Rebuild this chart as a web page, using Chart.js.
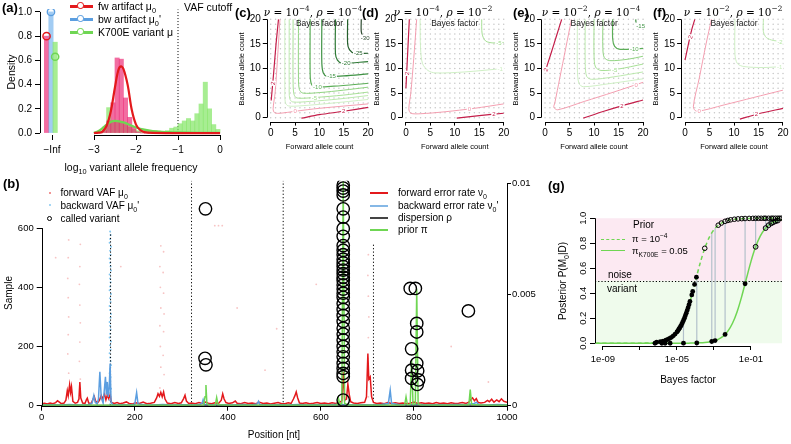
<!DOCTYPE html>
<html><head><meta charset="utf-8">
<script src="https://cdn.jsdelivr.net/npm/chart.js@4.4.1/dist/chart.umd.min.js"></script>
<style>
body{margin:0;background:#fff}
#fig{position:relative;width:791px;height:444px;overflow:hidden;font-family:"Liberation Sans",Arial,sans-serif;color:#000}
#fig canvas{position:absolute}
.t{position:absolute;white-space:nowrap;line-height:1}
.t sub,.t sup{font-size:70%;line-height:0}
.m{font-family:"DejaVu Serif",serif;font-size:10.5px}
.m i{font-style:italic}
.L{font-weight:bold;font-size:13px}
</style></head><body><div id="fig"></div>
<script>
// ---------- (a) VAF histograms ----------
const binMid = [-2.95,-2.85,-2.75,-2.65,-2.55,-2.45,-2.35,-2.25,-2.15,-2.05,-1.95,-1.85,-1.75,-1.65,-1.55,-1.45,-1.35,-1.25,-1.15,-1.05,-0.95,-0.85,-0.75,-0.65,-0.55,-0.45,-0.35,-0.25,-0.15,-0.05];
const fwHist  = [0,0,0.02,0.10,0.25,0.62,0.61,0.29,0.13,0.05,0.01,0,0,0,0,0,0,0,0,0,0,0,0,0,0,0,0,0,0,0];
const varHist = [0.01,0.02,0.05,0.21,0.10,0.10,0.09,0.07,0.05,0.03,0.02,0.02,0.025,0.02,0.02,0.015,0.015,0.02,0.04,0.05,0.077,0.10,0.12,0.10,0.16,0.24,0.42,0.20,0.07,0.03];
const infHist  = [0.80, 1.00, 0.75];   // fw, bw, variant at -Inf
const infModel = [0.80, 1.00, 0.63];
const fwCurve  = [[-3,0],[-2.9,0.003],[-2.8,0.012],[-2.7,0.06],[-2.6,0.18],[-2.5,0.38],[-2.42,0.52],[-2.36,0.55],[-2.3,0.53],[-2.2,0.40],[-2.1,0.19],[-2.0,0.07],[-1.9,0.025],[-1.8,0.008],[-1.6,0.001],[-1.0,0],[0,0]];
const varCurve = [[-3,0],[-2.9,0.015],[-2.8,0.04],[-2.7,0.07],[-2.6,0.092],[-2.5,0.10],[-2.4,0.097],[-2.3,0.088],[-2.2,0.075],[-2.1,0.06],[-2.0,0.046],[-1.8,0.028],[-1.6,0.017],[-1.4,0.011],[-1.2,0.007],[-1.0,0.005],[-0.5,0.002],[0,0.001]];
const vafCutoff = -1;
const aXTicks = [-4,-3,-2,-1,0];
const aXLabels = ['\u2212Inf','\u22123','\u22122','\u22121','0'];
const aYTicks = [0,0.2,0.4,0.6,0.8,1];
const aYLabels = ['0.0','0.2','0.4','0.6','0.8','1.0'];

// ---------- (c)-(f) Bayes factor contours ----------
const gridCounts = [0,1,2,3,4,5,6,7,8,9,10,11,12,13,14,15,16,17,18,19,20];
const countTicks = [0,5,10,15,20];
const countLabels = ['0','5','10','15','20'];
const contC = [
  [2,[[0.1,3.5],[0.6,9],[1.1,15],[1.6,20]]],
  [2,[[6.3,-0.1],[10,0.6],[15,1.3],[20,2.1]]],
  [0,[[1.9,20],[1.4,12],[0.9,5],[0.5,1.8],[0.8,1.0],[2,0.9],[5,1.3],[10,1.9],[20,2.8]]],
  [-1,[[2.9,20],[2.9,6],[3.0,3.1],[3.6,2.4],[6,2.4],[12,2.9],[20,3.7]]],
  [-2,[[3.8,20],[3.8,6.5],[3.9,3.9],[4.5,3.2],[8,3.3],[14,3.8],[20,4.5]]],
  [-5,[[4.6,20],[4.6,7],[4.8,4.7],[5.4,4.0],[9,4.1],[15,4.6],[20,5.2]]],
  [-8,[[5.7,20],[5.7,8],[5.9,5.7],[6.6,5.0],[10,5.1],[15,5.6],[20,6.2]]],
  [-10,[[8.1,20],[8.1,9],[8.3,7.0],[9.0,6.3],[13,6.4],[20,7.0]]],
  [-15,[[10.5,20],[10.5,11],[10.8,9.1],[11.6,8.4],[15,8.5],[20,8.9]]],
  [-20,[[13.3,20],[13.3,13],[13.7,11.7],[14.6,11.1],[20,11.4]]],
  [-25,[[15.8,20],[15.8,15],[16.2,13.8],[17.2,13.1],[20,13.1]]],
  [-30,[[18.6,20],[18.6,17.5],[19.0,16.5],[20,16.1]]]
];
const labC = [['2',0.42,7,2,-82],['0',5,1.3,0],['2',15,1.3,2],['-5',9,4.1,-5],['-10',9.6,6.3,-10],['-15',12.5,8.45,-15],['-20',15.5,11.15,-20],['-25',18,13.1,-25],['-30',19.4,16.3,-30]];
const contD = [
  [2,[[0,6],[0.3,12],[0.7,20]]],
  [2,[[10.4,-0.1],[15,0.4],[20,0.9]]],
  [0,[[2.2,20],[1.6,12],[1.0,5],[0.6,1.8],[1.0,0.9],[3,0.8],[8,1.2],[14,1.9],[20,2.8]]],
  [-1,[[2.9,20],[3.0,14],[3.4,11],[4.5,9.6],[6,9.1],[12,9.3],[20,10.0]]],
  [-5,[[15.5,20],[15.6,17],[16.3,15.6],[17.8,15.2],[20,15.3]]]
];
const labD = [['2',0.2,9,2,-86],['0',13,1.8,0],['2',18,0.7,2],['-1',19.3,9.95,-1],['-5',19,15.25,-5]];
const contE = [
  [2,[[0,9.3],[1.2,13],[2.3,16.5],[3.4,20]]],
  [2,[[7.8,-0.1],[12,1.3],[16,2.5],[20,3.6]]],
  [0,[[5.4,20],[4.2,14],[3.0,8],[2.0,3],[1.8,2.1],[2.6,1.6],[8,3.3],[14,5.2],[20,7.2]]],
  [-1,[[6.6,20],[6.6,10],[6.9,7.0],[7.8,6.3],[13,6.9],[20,7.9]]],
  [-2,[[8.2,20],[8.2,11],[8.5,8.4],[9.5,7.8],[14,8.3],[20,9.3]]],
  [-5,[[10,20],[10,12.5],[10.3,10.3],[11.4,9.6],[15,9.9],[20,10.9]]],
  [-8,[[11.8,20],[11.8,14],[12.1,12.2],[13.2,11.6],[17,11.9],[20,12.5]]],
  [-10,[[13.8,20],[13.8,16],[14.2,14.5],[15.3,13.9],[20,14.1]]],
  [-15,[[18.5,20],[18.6,19.3],[19.2,18.8],[20,18.7]]]
];
const labE = [['2',0.15,9.8,2,-65],['0',18.6,6.7,0],['2',15.7,2.4,2],['-5',14.2,9.8,-5],['-10',18.2,14.05,-10],['-15',19.5,18.75,-15]];
const contF = [
  [2,[[0,11.7],[0.7,15],[1.4,18],[2.0,20]]],
  [2,[[11.2,-0.3],[15,0.8],[20,1.9]]],
  [0,[[5.4,20],[4.3,15],[2.9,8],[1.7,2.2],[2.4,1.3],[8,2.6],[14,4.1],[20,5.6]]],
  [-1,[[10.2,20],[10.2,12.8],[10.7,11.0],[12,10.4],[16,10.2],[20,10.4]]],
  [-2,[[16,20],[16,17.5],[16.6,16.3],[18,15.7],[20,15.5]]]
];
const labF = [['2',1.1,16.4,2,-70],['0',2.9,1.4,0],['2',14.6,0.75,2],['-1',19.3,10.4,-1],['-2',19.4,15.5,-2]];

// ---------- (b) positions along the amplicon ----------
// error rates / prior as [position, value in units of 1e-4]
const fwErr = [[0,0.9],[6,1.1],[12,0.8],[18,1.2],[24,0.9],[30,1.4],[34,2.2],[38,1.6],[42,0.9],[48,1.2],[52,2.5],[55,6.8],[57,4.5],[60,9.4],[62,6.0],[64,8.6],[67,2.0],[72,1.1],[77,1.5],[80,3.0],[82,10.6],[84,3.5],[88,1.2],[93,1.0],[96,2.6],[98,3.4],[101,1.2],[106,0.9],[110,2.8],[113,4.1],[116,2.0],[120,1.3],[124,2.4],[128,4.6],[131,3.1],[135,5.2],[138,2.6],[141,4.8],[144,3.2],[147,5.0],[150,1.5],[156,1.0],[162,1.4],[168,0.9],[175,1.2],[182,1.7],[188,1.0],[195,0.8],[202,1.3],[210,1.0],[218,1.6],[226,0.9],[234,1.1],[242,1.5],[247,3.5],[250,5.4],[253,4.2],[256,6.0],[259,4.0],[262,6.2],[265,3.0],[270,1.2],[278,0.9],[286,1.4],[294,1.0],[300,1.3],[305,3.2],[308,4.7],[311,2.1],[316,1.0],[322,1.2],[330,0.9],[338,1.4],[345,1.0],[352,1.6],[358,1.1],[365,0.9],[372,1.3],[380,1.0],[386,2.5],[389,5.3],[392,3.0],[396,1.4],[402,1.0],[410,1.3],[416,2.1],[420,1.1],[428,0.9],[436,1.4],[444,1.0],[452,1.2],[460,0.9],[468,1.5],[476,1.0],[484,1.2],[492,0.8],[500,1.1],[508,1.4],[516,0.9],[524,1.0],[530,1.3],[536,1.0],[541,3.0],[544,4.4],[547,6.2],[550,3.6],[554,1.2],[560,1.0],[568,1.3],[576,0.9],[584,1.1],[592,1.4],[600,1.0],[608,1.2],[616,0.9],[624,1.3],[632,1.0],[640,1.5],[645,2.2],[648,15.0],[651,2.5],[655,3.0],[658,9.8],[661,5.0],[664,1.8],[670,1.2],[678,1.0],[686,1.3],[694,1.5],[698,4.0],[701,23.5],[703,12.0],[706,13.0],[709,4.0],[713,1.5],[720,1.0],[728,1.2],[736,0.9],[744,1.4],[752,1.0],[760,1.3],[768,1.0],[776,1.2],[784,0.9],[792,1.1],[800,1.6],[808,1.0],[816,1.3],[824,1.0],[832,1.2],[840,0.9],[848,1.4],[856,1.0],[864,1.2],[872,0.9],[880,1.3],[888,1.0],[896,1.1],[904,1.4],[912,1.0],[918,1.6],[922,2.8],[926,3.5],[930,2.2],[934,3.2],[938,1.4],[944,1.2],[952,1.5],[958,2.4],[962,1.8],[967,2.9],[972,1.6],[978,2.6],[983,1.8],[988,3.1],[993,2.0],[1000,1.5]];
const bwErr = [[0,0.3],[20,0.4],[40,0.3],[60,0.5],[80,0.3],[100,0.4],[108,1.0],[112,4.6],[115,1.5],[119,0.8],[122,3.0],[125,15.3],[128,3.5],[132,1.2],[135,8.0],[137,13.0],[139,5.0],[141,10.7],[143,4.0],[145,7.5],[147,19.0],[149,2.0],[152,0.5],[170,0.4],[190,0.3],[200,0.6],[204,5.9],[207,0.8],[220,0.4],[240,0.3],[260,0.5],[280,0.3],[300,0.4],[320,0.3],[340,0.5],[345,1.2],[347,2.7],[350,0.6],[370,0.3],[390,0.4],[410,0.3],[430,0.5],[450,0.3],[463,0.8],[466,2.0],[469,0.5],[490,0.3],[510,0.4],[530,0.3],[550,0.5],[570,0.3],[590,0.4],[610,0.3],[630,0.5],[650,0.4],[670,0.3],[690,0.4],[710,0.3],[730,0.5],[745,1.0],[749,7.0],[752,1.0],[770,0.4],[790,0.3],[810,0.5],[830,0.3],[850,0.4],[870,0.3],[890,0.5],[910,0.4],[930,1.0],[934,1.6],[940,0.4],[960,0.3],[980,0.5],[1000,0.3]];
const dispersion = [[0,0.1],[100,0.12],[200,0.15],[300,0.1],[400,0.12],[500,0.1],[600,0.15],[700,0.1],[800,0.12],[900,0.1],[1000,0.1]];
const priorPi = [[0,0.2],[50,0.2],[100,0.25],[150,0.2],[200,0.2],[250,0.25],[300,0.2],[348,0.3],[351,4.0],[353,9.3],[355,1.0],[360,0.2],[373,0.3],[376,3.7],[379,0.4],[400,0.2],[450,0.2],[500,0.2],[550,0.2],[600,0.25],[635,0.3],[638,3.2],[641,0.5],[645,1.0],[648,101],[651,1.0],[660,0.2],[700,0.2],[750,0.2],[780,0.3],[783,4.0],[786,0.4],[792,0.5],[795,21.0],[798,0.6],[803,0.8],[806,52.6],[809,0.8],[815,0.3],[850,0.2],[900,0.2],[918,0.4],[921,7.3],[924,0.5],[950,0.2],[1000,0.2]];
// per-sample VAF dots [position, sample]
const fwVafDots = [[57,40],[58,110],[56,175],[57,240],[58,300],[57,365],[56,430],[57,500],[58,560],[82,25],[83,90],[81,150],[82,215],[83,280],[82,340],[81,410],[82,470],[83,545],[254,60],[256,130],[255,200],[254,270],[256,330],[255,400],[254,470],[256,540],[262,35],[263,105],[261,170],[262,250],[263,310],[262,380],[261,450],[262,520],[702,30],[703,95],[701,160],[702,230],[703,300],[702,370],[701,440],[702,510],[480,120],[505,260],[590,410],[170,470],[420,330],[880,200],[960,80],[30,500],[372,608],[380,608],[388,608]];
const bwVafDots = [[147,5],[146,18],[148,31],[147,44],[149,57],[146,70],[147,84],[148,97],[146,110],[147,124],[149,137],[148,150],[147,163],[146,177],[148,190],[147,204],[149,217],[146,230],[147,243],[148,257],[147,270],[146,283],[148,297],[149,310],[147,323],[146,337],[148,350],[147,363],[149,377],[146,390],[147,403],[148,417],[147,430],[146,443],[149,457],[148,470],[147,483],[146,497],[148,510],[147,523],[149,537],[146,550],[147,563],[148,577],[147,588]];
const calledVar = [[648,745],[648,735],[648,725],[648,712],[648,665],[648,637],[648,598],[648,572],[648,541],[648,525],[648,510],[648,495],[648,482],[648,470],[648,458],[648,446],[648,434],[648,423],[648,408],[648,394],[648,380],[648,366],[648,345],[648,325],[648,305],[648,285],[648,262],[648,242],[648,222],[648,200],[648,182],[648,165],[648,143],[648,126],[648,109],[648,98],[648,19],[352,665],[351,160],[353,138],[792,396],[803,396],[806,278],[806,249],[795,192],[806,143],[795,120],[808,118],[795,92],[810,87],[807,72],[917,320]];
const exonEdges = [[148,586],[322,760],[519,760],[713,548]];   // [position, top sample]
const bXTicks = [0,200,400,600,800,1000];
const bYTicks = [0,200,400,600];
const bY2Ticks = [0,0.005,0.01];
const bY2Labels = ['0','0.005','0.01'];

// ---------- (g) posterior vs Bayes factor ----------
const curveLog10BF = [-9.4,-8,-7,-6.5,-6,-5.5,-5,-4.75,-4.5,-4.25,-4,-3.75,-3.5,-3.25,-3,-2.75,-2.5,-2.25,-2,-1.75,-1.5,-1.25,-1,-0.75,-0.5,-0.25,0,0.25,0.5,0.7];
const postPrior4 = [0,0.0001,0.001,0.0032,0.0099,0.0307,0.0909,0.151,0.2403,0.3599,0.5,0.6401,0.7597,0.849,0.9091,0.9468,0.9693,0.9826,0.9901,0.9944,0.9968,0.9982,0.999,0.9994,0.9997,0.9998,0.9999,0.9999,1,1];
const postK700E = [0,0,0,0,0,0.0001,0.0002,0.0003,0.0006,0.0011,0.0019,0.0034,0.006,0.0106,0.0187,0.0327,0.0566,0.0966,0.1597,0.2525,0.3753,0.5166,0.6552,0.7716,0.8573,0.9143,0.95,0.9713,0.9836,0.9897];
const calledLog10BF = [-6.1,-5.9,-5.75,-5.6,-5.5,-5.4,-5.3,-5.2,-5.1,-5.0,-4.95,-4.9,-4.85,-4.8,-4.75,-4.7,-4.65,-4.6,-4.55,-4.5,-4.45,-4.4,-4.35,-4.3,-4.2,-4.15,-4.05,-3.95];
const calledPost = [0.0079,0.0124,0.0175,0.0245,0.0307,0.0383,0.0477,0.0594,0.0735,0.0909,0.1009,0.112,0.124,0.137,0.151,0.166,0.183,0.201,0.22,0.24,0.262,0.285,0.309,0.334,0.387,0.415,0.471,0.529];
const openLog10BF = [-3.5,-2.77,-2.6,-2.4,-2.25,-2.1,-1.9,-1.7,-1.5,-1.32,-1.1,-0.9,-0.75,-0.6,-0.45,-0.3,-0.21,-0.05,0.1,0.2,0.33,0.45,0.55,0.65];
const openPost = [0.7597,0.9444,0.9617,0.9755,0.9825,0.9875,0.9921,0.995,0.9968,0.9979,0.9987,0.9992,0.9994,0.9996,0.9997,0.9998,0.9998,0.9999,1,1,1,1,1,1];
const afterLog10BF = [-6.19,-5.82,-5.64,-5.37,-4.65,-3.93,-3.12,-2.94,-2.40,-1.32,-0.75,-0.21,-0.05,0.1,0.2,0.33,0.45];
const afterPost = [0,0,0,0,0.0004,0.0022,0.0142,0.0213,0.0703,0.476,0.7716,0.9213,0.9442,0.9599,0.9679,0.976,0.9817];
const arrowLog10BF = [-4.65,-3.93,-3.12,-2.94,-2.40,-1.32,-0.75,-0.21,-0.05,0.1,0.2,0.33,0.45];
const arrowFrom = [0.183,0.54,0.8836,0.9199,0.9755,0.9979,0.9994,0.9998,0.9999,1,1,1,1];
const arrowTo = [0.0004,0.0022,0.0142,0.0213,0.0703,0.476,0.7716,0.9213,0.9442,0.9599,0.9679,0.976,0.9817];
const callThreshold = 0.5;
const gXTicks = [1e-9,1e-7,1e-5,1e-3,1e-1];
const gXLabels = ['1e-09','','1e-05','','1e-01'];
const gYTicks = [0,0.2,0.4,0.6,0.8,1];
const gYLabels = ['0.0','0.2','0.4','0.6','0.8','1.0'];

// ---------- setup ----------
Chart.defaults.animation = false;
Chart.defaults.responsive = false;
Chart.defaults.font.family = "'Liberation Sans', Arial, sans-serif";
Chart.defaults.color = '#000';
Chart.defaults.plugins.legend.display = false;
Chart.defaults.plugins.tooltip.enabled = false;
Chart.defaults.events = [];

const RED = '#e3191c', BLUE = '#5b9ee0', GREEN = '#6fd653', PINK = 'rgba(235,30,110,0.65)', LGREEN = 'rgba(130,230,100,0.7)';
const fig = document.getElementById('fig');

function levelColor(l) {
  return {2:'#c41e4a',0:'#f394a8','-1':'#cbeebf','-2':'#b6e7a6','-5':'#9edc8b','-8':'#86cf75','-10':'#5cae58','-15':'#3f9244','-20':'#2f7a36','-25':'#25602c','-30':'#2d4b30'}[l];
}

// R-style axis lines: from first to last tick only
Chart.register({
  id: 'rAxes',
  afterDraw(chart, args, opts) {
    const ctx = chart.ctx;
    ctx.save(); ctx.strokeStyle = '#000'; ctx.lineWidth = 1;
    Object.values(chart.scales).forEach(s => {
      if (!s.ticks.length) return;
      const segs = (opts.segs && opts.segs[s.id]) || [[s.ticks[0].value, s.ticks[s.ticks.length - 1].value]];
      segs.forEach(([a, b]) => {
        const p1 = s.getPixelForValue(a), p2 = s.getPixelForValue(b);
        ctx.beginPath();
        if (s.isHorizontal()) { const y = Math.round(s.top) + 0.5; ctx.moveTo(p1, y); ctx.lineTo(p2, y); }
        else { const x = Math.round(s.position === 'left' ? s.right : s.left) + 0.5; ctx.moveTo(x, p1); ctx.lineTo(x, p2); }
        ctx.stroke();
      });
    });
    ctx.restore();
  }
});

// contour labels
Chart.register({
  id: 'cLabels',
  afterDatasetsDraw(chart, args, opts) {
    if (!opts.items) return;
    const {ctx, scales: {x, y}} = chart;
    ctx.save();
    ctx.font = "6px 'Liberation Sans', Arial";
    ctx.textAlign = 'center'; ctx.textBaseline = 'middle';
    opts.items.forEach(([txt, u, v, lev, rot]) => {
      ctx.save();
      ctx.translate(x.getPixelForValue(u), y.getPixelForValue(v));
      if (rot) ctx.rotate(rot * Math.PI / 180);
      const w = ctx.measureText(txt).width + 2;
      ctx.fillStyle = '#fff'; ctx.fillRect(-w / 2, -3, w, 6);
      ctx.fillStyle = levelColor(lev); ctx.fillText(txt, 0, 0.5);
      ctx.restore();
    });
    ctx.restore();
  }
});

function axis(o) {
  const vals = o.ticks, labs = o.labels;
  return {
    type: o.type || 'linear', position: o.pos, min: o.min, max: o.max, offset: false,
    afterBuildTicks: s => { s.ticks = vals.map(v => ({value: v})); },
    grid: {drawOnChartArea: false, drawTicks: true, tickLength: o.tl ?? 4, color: '#000', lineWidth: 1, offset: false},
    border: {display: false},
    ticks: {color: '#000', padding: o.pad ?? 2, font: {size: o.fs ?? 10}, autoSkip: false,
      minRotation: o.rot || 0, maxRotation: o.rot || 0, crossAlign: o.rot ? 'center' : 'near',
      callback: (v, i) => labs ? labs[i] : String(v)}
  };
}

// place a chart so that its plot area lands on page coords [l,t,r,b]
function makeChart(rect, area, cfg) {
  const [cx, cy, cw, ch] = rect, [l, t, r, b] = area;
  const cv = document.createElement('canvas');
  cv.width = cw; cv.height = ch;
  cv.style.left = cx + 'px'; cv.style.top = cy + 'px';
  fig.appendChild(cv);
  const sc = cfg.options.scales;
  cfg.options.layout = {padding: {left: 0, top: t - cy, right: sc.y2 ? 0 : cx + cw - r, bottom: 0}};
  sc.x.afterFit = s => { s.height = cy + ch - b; };
  sc.y.afterFit = s => { s.width = l - cx; };
  if (sc.y2) sc.y2.afterFit = s => { s.width = cx + cw - r; };
  return new Chart(cv, cfg);
}

function T(x, y, html, css, mode) {
  const d = document.createElement('div');
  d.className = 't'; d.innerHTML = html;
  d.style.cssText = `left:${x}px;top:${y}px;` + (css || '');
  d.style.transform = {c: 'translate(-50%,-50%)', l: 'translate(0,-50%)', v: 'translate(-50%,-50%) rotate(-90deg)'}[mode || 'l'];
  fig.appendChild(d);
}
function seg(x1, x2, y, color, w, style) {
  const d = document.createElement('div');
  d.style.cssText = `position:absolute;left:${x1}px;top:${y - w / 2}px;width:${x2 - x1}px;height:0;border-top:${w}px ${style || 'solid'} ${color}`;
  fig.appendChild(d);
}
function ring(x, y, r, color, w, fill) {
  const d = document.createElement('div');
  d.style.cssText = `position:absolute;left:${x - r}px;top:${y - r}px;width:${2 * r - 2 * w}px;height:${2 * r - 2 * w}px;border:${w}px solid ${color};border-radius:50%;background:${fill || 'transparent'}`;
  fig.appendChild(d);
}
const xy = p => ({x: p[0], y: p[1]});

// ---------- panel (a) ----------
const infOffset = [-0.13, -0.025, 0.075];
makeChart([0, 0, 232, 160], [40, 4, 224, 135], {
  type: 'bar',
  data: {datasets: [
    {type: 'line', data: fwCurve.map(xy), borderColor: RED, borderWidth: 2.2, pointRadius: 0, tension: 0.35, order: 1},
    {type: 'line', data: varCurve.map(xy), borderColor: GREEN, borderWidth: 2.2, pointRadius: 0, tension: 0.35, order: 2},
    {type: 'scatter', data: infModel.map((v, i) => ({x: aXTicks[0] + infOffset[i], y: v})), pointRadius: 3.6, pointBorderWidth: 1.5,
      pointBorderColor: [RED, BLUE, GREEN], pointBackgroundColor: 'rgba(0,0,0,0)', order: 0},
    {type: 'line', data: [{x: vafCutoff, y: 0}, {x: vafCutoff, y: 1.02}], borderColor: '#000', borderWidth: 1, borderDash: [1, 2], pointRadius: 0, order: 6},
    {data: binMid.map((m, i) => ({x: m, y: fwHist[i]})), backgroundColor: PINK, barThickness: 4.3, grouped: false, order: 3},
    {data: binMid.map((m, i) => ({x: m, y: varHist[i]})), backgroundColor: LGREEN, barThickness: 4.3, grouped: false, order: 4},
    {data: infHist.map((v, i) => ({x: aXTicks[0] + infOffset[i], y: v})), backgroundColor: [PINK, 'rgba(100,170,235,0.6)', LGREEN], barThickness: 4.4, grouped: false, order: 3}
  ]},
  options: {
    scales: {
      x: axis({pos: 'bottom', min: -4.286, max: 0.095, ticks: aXTicks, labels: aXLabels, tl: 5, pad: 4}),
      y: axis({pos: 'left', min: -0.016, max: 1.024, ticks: aYTicks, labels: aYLabels, tl: 5, pad: 3})
    },
    plugins: {rAxes: {segs: {x: [[-4, -4], [-3, 0]]}}}
  }
});

// ---------- panels (c)-(f) ----------
function contourPanel(rect, area, lines, labels) {
  const dots = [];
  gridCounts.forEach(u => gridCounts.forEach(v => dots.push({x: u, y: v})));
  const ds = [{type: 'scatter', data: dots, pointRadius: 0.75, pointBorderWidth: 0, pointBackgroundColor: '#c6c6c6', order: 9}];
  lines.forEach(([lev, pts]) => ds.push({type: 'line', data: pts.map(xy), borderColor: levelColor(lev),
    borderWidth: (lev <= -10 || lev === 2) ? 1.2 : 0.9, pointRadius: 0, tension: 0.3, order: 1}));
  makeChart(rect, area, {
    type: 'scatter', data: {datasets: ds},
    options: {
      scales: {
        x: axis({pos: 'bottom', min: -0.8, max: 20.8, ticks: countTicks, labels: countLabels, tl: 4, pad: 2}),
        y: axis({pos: 'left', min: -0.8, max: 20.8, ticks: countTicks, labels: countLabels, tl: 4, pad: 2})
      },
      plugins: {cLabels: {items: labels}}
    }
  });
}
const panels = [
  {rect: [236, 0, 140, 145], area: [266.8, 15.4, 372.2, 121.6], c: contC, l: labC, letter: '(c)', lx: 235, tx: 313, nu: '4', rho: '4'},
  {rect: [372, 0, 140, 145], area: [402, 15.4, 507.6, 121.6], c: contD, l: labD, letter: '(d)', lx: 362, tx: 443, nu: '4', rho: '2'},
  {rect: [511, 0, 140, 145], area: [541.1, 15.4, 647.2, 121.6], c: contE, l: labE, letter: '(e)', lx: 513, tx: 591, nu: '2', rho: '4'},
  {rect: [651, 0, 140, 145], area: [681.1, 15.4, 786.9, 121.6], c: contF, l: labF, letter: '(f)', lx: 653, tx: 733, nu: '2', rho: '2'}
];
panels.forEach(p => {
  contourPanel(p.rect, p.area, p.c, p.l);
  const mid = (p.area[0] + p.area[2]) / 2;
  T(p.lx, 12, p.letter, '', 'l'); fig.lastChild.classList.add('L');
  T(p.tx, 12, `<i>ν</i> = 10<sup>−${p.nu}</sup>, <i>ρ</i> = 10<sup>−${p.rho}</sup>`, '', 'c'); fig.lastChild.classList.add('m');
  T(mid, 23, 'Bayes factor', 'font-size:8.5px;color:#222', 'c');
  T(mid, 147, 'Forward allele count', 'font-size:7.5px', 'c');
  T(p.area[0] - 25, 68.5, 'Backward allele count', 'font-size:7.5px', 'v');
});

// ---------- panel (b) ----------
const r4 = p => ({x: p[0], y: p[1] * 1e-4});
const edgeData = [];
exonEdges.forEach(([pos, top]) => edgeData.push({x: pos, y: 0}, {x: pos, y: top}, {x: pos, y: null}));
makeChart([0, 172, 545, 272], [41.7, 180.2, 507, 405.7], {
  type: 'scatter',
  data: {datasets: [
    {data: calledVar.map(xy), pointRadius: 6.2, pointBorderWidth: 1.4, pointBorderColor: '#000', pointBackgroundColor: 'rgba(0,0,0,0)', yAxisID: 'y', order: 0},
    {type: 'line', data: priorPi.map(r4), borderColor: GREEN, borderWidth: 1.5, pointRadius: 0, yAxisID: 'y2', order: 1},
    {type: 'line', data: dispersion.map(r4), borderColor: '#333', borderWidth: 1.3, pointRadius: 0, yAxisID: 'y2', order: 2},
    {type: 'line', data: bwErr.map(r4), borderColor: BLUE, borderWidth: 1.5, pointRadius: 0, yAxisID: 'y2', order: 3},
    {type: 'line', data: fwErr.map(r4), borderColor: RED, borderWidth: 1.5, pointRadius: 0, yAxisID: 'y2', order: 4},
    {type: 'line', data: edgeData, borderColor: '#000', borderWidth: 1, borderDash: [1.2, 2.2], pointRadius: 0, spanGaps: false, yAxisID: 'y', order: 5},
    {data: bwVafDots.map(xy), pointRadius: 1, pointBorderWidth: 0, pointBackgroundColor: 'rgba(90,180,235,0.75)', yAxisID: 'y', order: 6},
    {data: fwVafDots.map(xy), pointRadius: 0.9, pointBorderWidth: 0, pointBackgroundColor: 'rgba(230,60,60,0.3)', yAxisID: 'y', order: 7}
  ]},
  options: {
    scales: {
      x: axis({pos: 'bottom', min: 0, max: 1000, ticks: bXTicks, tl: 5, pad: 1, fs: 9.5}),
      y: axis({pos: 'left', min: 0, max: 760, ticks: bYTicks, tl: 5, pad: 3, fs: 9.5}),
      y2: axis({pos: 'right', min: 0, max: 0.010125, ticks: bY2Ticks, labels: bY2Labels, tl: 4, pad: 1, fs: 9.5})
    }
  }
});

// ---------- panel (g) ----------
const bf = l => Math.pow(10, l);
const arrowData = [];
arrowLog10BF.forEach((l, i) => arrowData.push({x: bf(l), y: arrowFrom[i]}, {x: bf(l), y: arrowTo[i]}, {x: bf(l), y: null}));
makeChart([555, 200, 236, 175], [595, 213, 782, 346], {
  type: 'scatter',
  data: {datasets: [
    {data: calledLog10BF.map((l, i) => ({x: bf(l), y: calledPost[i]})), pointRadius: 2.4, pointBorderWidth: 0, pointBackgroundColor: '#000', order: 1},
    {data: afterLog10BF.map((l, i) => ({x: bf(l), y: afterPost[i]})), pointRadius: 2.4, pointBorderWidth: afterPost.map(v => v < callThreshold ? 0 : 1),
      pointBorderColor: '#000', pointBackgroundColor: afterPost.map(v => v < callThreshold ? '#000' : 'rgba(0,0,0,0)'), order: 1},
    {data: openLog10BF.map((l, i) => ({x: bf(l), y: openPost[i]})), pointRadius: 2.3, pointBorderWidth: 1, pointBorderColor: '#000', pointBackgroundColor: 'rgba(0,0,0,0)', order: 2},
    {type: 'line', data: curveLog10BF.map((l, i) => ({x: bf(l), y: postPrior4[i]})), borderColor: GREEN, borderWidth: 1.5, borderDash: [4, 3], pointRadius: 0, tension: 0.3, order: 4},
    {type: 'line', data: curveLog10BF.map((l, i) => ({x: bf(l), y: postK700E[i]})), borderColor: GREEN, borderWidth: 1.5, pointRadius: 0, tension: 0.3, order: 4},
    {type: 'line', data: arrowData, borderColor: '#b3c1cb', borderWidth: 1.2, spanGaps: false, pointStyle: 'triangle', pointRotation: 180,
      pointRadius: c => c.dataIndex % 3 === 1 ? 3 : 0, pointBackgroundColor: '#b3c1cb', pointBorderWidth: 0, order: 5}
  ]},
  options: {
    scales: {
      x: axis({type: 'logarithmic', pos: 'bottom', min: 3.7e-10, max: 4.74, ticks: gXTicks, labels: gXLabels, tl: 4, pad: 4, fs: 9.5}),
      y: axis({pos: 'left', min: -0.022, max: 1.042, ticks: gYTicks, labels: gYLabels, tl: 5, pad: 0, fs: 9.5, rot: 90})
    }
  },
  plugins: [{
    id: 'gBg',
    beforeDatasetsDraw(chart) {
      const {ctx, chartArea: a, scales: {y}} = chart;
      const y1 = y.getPixelForValue(1), y5 = y.getPixelForValue(callThreshold), y0 = y.getPixelForValue(0);
      ctx.save();
      ctx.fillStyle = '#fce9f2'; ctx.fillRect(a.left, y1, a.right - a.left, y5 - y1);
      ctx.fillStyle = '#effbec'; ctx.fillRect(a.left, y5, a.right - a.left, y0 - y5);
      ctx.strokeStyle = '#000'; ctx.lineWidth = 1; ctx.setLineDash([1.2, 2]);
      ctx.beginPath(); ctx.moveTo(a.left, Math.round(y5) + 0.5); ctx.lineTo(a.right, Math.round(y5) + 0.5); ctx.stroke();
      ctx.restore();
    }
  }]
});

// ---------- text & legends ----------
// (a)
T(2, 7, '(a)', '', 'l'); fig.lastChild.classList.add('L');
T(11, 72, 'Density', 'font-size:10.5px', 'v');
T(131, 167, 'log<sub>10</sub> variant allele frequency', 'font-size:10.5px', 'c');
T(184, 7, 'VAF cutoff', 'font-size:10.5px', 'l');
[[RED, 'fw artifact μ<sub>0</sub>', 6], [BLUE, "bw artifact μ<sub>0</sub>'", 19], [GREEN, 'K700E variant μ', 32]].forEach(([c, s, y]) => {
  seg(70, 93, y, c, 3); ring(81, y, 3.6, c, 1.5, '#fff'); T(98, y, s, 'font-size:10.5px', 'l');
});
// (b)
T(3, 183, '(b)', '', 'l'); fig.lastChild.classList.add('L');
T(9, 293, 'Sample', 'font-size:10px', 'v');
T(274, 435, 'Position [nt]', 'font-size:10px', 'c');
ring(50, 193, 1.2, 'rgba(230,60,60,0.9)', 1.2); T(60.5, 193, 'forward VAF μ<sub>0</sub>', 'font-size:10px', 'l');
ring(50, 205.5, 1.2, 'rgba(90,180,235,0.9)', 1.2); T(60.5, 205.5, "backward VAF μ<sub>0</sub>'", 'font-size:10px', 'l');
ring(50, 219, 3.2, '#000', 1.5); T(60.5, 219, 'called variant', 'font-size:10px', 'l');
[[RED, 'forward error rate ν<sub>0</sub>', 193.3], ['#86b8e6', "backward error rate ν<sub>0</sub>'", 205.7], ['#444', 'dispersion ρ', 217.7], [GREEN, 'prior π', 230]].forEach(([c, s, y]) => {
  seg(370, 388, y, c, 2); T(398, y, s, 'font-size:10px', 'l');
});
// (g)
T(548, 185, '(g)', '', 'l'); fig.lastChild.classList.add('L');
T(563, 281, 'Posterior P(M<sub>0</sub>|D)', 'font-size:10px', 'v');
T(688, 380, 'Bayes factor', 'font-size:10px', 'c');
T(608, 275, 'noise', 'font-size:10px', 'l');
T(607, 289, 'variant', 'font-size:10px', 'l');
T(633, 225, 'Prior', 'font-size:10px', 'l');
seg(601, 625, 239.3, GREEN, 1.5, 'dashed'); T(632, 239.3, 'π = 10<sup>−4</sup>', 'font-size:9.5px', 'l');
seg(601, 625, 250.7, GREEN, 1.5); T(632, 251, 'π<sub>K700E</sub> = 0.05', 'font-size:9.5px', 'l');
</script></body></html>
